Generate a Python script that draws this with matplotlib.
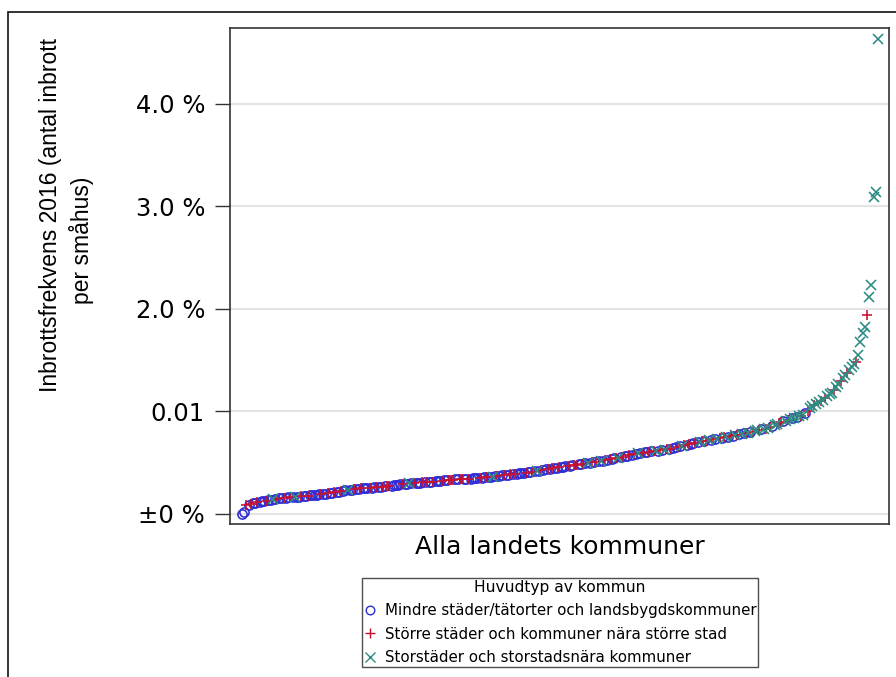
import matplotlib
matplotlib.use("Agg")
import matplotlib.pyplot as plt
from matplotlib.lines import Line2D
from matplotlib.patches import Rectangle
import numpy as np

# Burglary rate per detached house (percent), all municipalities sorted ascending
rate_pct = [
    0.000, 0.010, 0.080, 0.085, 0.092, 0.098, 0.103, 0.108, 0.112, 0.118,
    0.121, 0.125, 0.130, 0.134, 0.138, 0.142, 0.146, 0.150, 0.152, 0.154,
    0.156, 0.157, 0.158, 0.159, 0.160, 0.161, 0.164, 0.166, 0.169, 0.171,
    0.174, 0.177, 0.180, 0.182, 0.185, 0.187, 0.190, 0.192, 0.195, 0.197,
    0.200, 0.203, 0.207, 0.210, 0.214, 0.218, 0.221, 0.225, 0.229, 0.231,
    0.234, 0.237, 0.240, 0.243, 0.246, 0.249, 0.250, 0.251, 0.252, 0.253,
    0.255, 0.256, 0.258, 0.259, 0.262, 0.264, 0.267, 0.270, 0.272, 0.275,
    0.278, 0.280, 0.283, 0.285, 0.288, 0.290, 0.293, 0.295, 0.298, 0.299,
    0.300, 0.302, 0.303, 0.304, 0.305, 0.307, 0.309, 0.312, 0.314, 0.317,
    0.319, 0.322, 0.324, 0.327, 0.328, 0.330, 0.331, 0.333, 0.334, 0.336,
    0.337, 0.338, 0.339, 0.340, 0.341, 0.342, 0.343, 0.345, 0.346, 0.349,
    0.352, 0.354, 0.356, 0.359, 0.361, 0.363, 0.366, 0.368, 0.371, 0.374,
    0.377, 0.380, 0.383, 0.385, 0.388, 0.390, 0.393, 0.395, 0.398, 0.400,
    0.403, 0.405, 0.409, 0.412, 0.416, 0.419, 0.423, 0.427, 0.430, 0.434,
    0.437, 0.441, 0.444, 0.447, 0.451, 0.454, 0.457, 0.460, 0.463, 0.467,
    0.470, 0.474, 0.477, 0.480, 0.483, 0.487, 0.490, 0.493, 0.496, 0.500,
    0.503, 0.506, 0.509, 0.512, 0.516, 0.520, 0.524, 0.529, 0.533, 0.537,
    0.542, 0.546, 0.550, 0.555, 0.559, 0.564, 0.568, 0.572, 0.577, 0.581,
    0.586, 0.590, 0.593, 0.596, 0.599, 0.602, 0.605, 0.608, 0.611, 0.614,
    0.617, 0.620, 0.623, 0.626, 0.629, 0.634, 0.640, 0.645, 0.650, 0.656,
    0.661, 0.667, 0.672, 0.677, 0.683, 0.688, 0.692, 0.696, 0.700, 0.704,
    0.707, 0.711, 0.715, 0.719, 0.723, 0.727, 0.731, 0.735, 0.739, 0.742,
    0.746, 0.750, 0.755, 0.759, 0.763, 0.768, 0.772, 0.777, 0.781, 0.785,
    0.790, 0.795, 0.800, 0.805, 0.810, 0.815, 0.820, 0.825, 0.829, 0.834,
    0.843, 0.852, 0.862, 0.871, 0.881, 0.890, 0.899, 0.906, 0.912, 0.925,
    0.930, 0.936, 0.942, 0.947, 0.952, 0.965, 0.985, 1.005, 1.025, 1.045,
    1.060, 1.072, 1.085, 1.098, 1.110, 1.128, 1.145, 1.162, 1.180, 1.205,
    1.230, 1.262, 1.292, 1.320, 1.348, 1.375, 1.400, 1.428, 1.455, 1.480,
    1.550, 1.670, 1.760, 1.820, 1.940, 2.110, 2.230, 3.090, 3.140, 4.630,
]

# Municipality main type for each value above:
# C = Mindre städer/tätorter..., B = Större städer..., A = Storstäder...
kommuntyp = list(
    "CCBCBCCBCC" "CBCCACBCCB" "CCBCACCBCC" "BCCCCCBCCB" "CCBCCBCCAC"
    "CBCCBCCCBC" "CBCCBCBBCC" "CCCBCCACBC" "CCBCBCCBCC" "CBCCBBBCCB"
    "BCCBCCCCBC" "CBCCACBCCB" "CCBCBCCCCB" "CCBCACBCCB" "CBCCBCCCBC"
    "CBBCCBCACB" "CBCACBCBCC" "BACBCCBCBC" "ACBCCBCBAC" "BCABCBCCBC"
    "ABCBCCBCAB" "CBACBCABCB" "ACBCABCACB" "ACBAABCABA" "BCAABBCABA"
    "CACABACBAA" "BAABABAAAB" "AABAABAAAB" "AAAABAAAAA"
)

type_labels = {
    "C": "Mindre städer/tätorter och landsbygdskommuner",
    "B": "Större städer och kommuner nära större stad",
    "A": "Storstäder och storstadsnära kommuner",
}
type_order = ["C", "B", "A"]
type_markers = {"C": "o", "B": "+", "A": "x"}
type_colors = {"C": "#2E2ED6", "B": "#C8102E", "A": "#2A8C82"}

ytick_vals = [0.0, 0.01, 0.02, 0.03, 0.04]
ytick_labels = ["±0 %", "0.01", "2.0 %", "3.0 %", "4.0 %"]

W, H = 896, 677
fig = plt.figure(figsize=(W / 100, H / 100), dpi=100)
fig.patch.set_facecolor("white")

# outer frame (left and top visible)
fig.patches.append(Rectangle((8 / W, -0.1), 1.2, (H - 12) / H + 0.1,
                             transform=fig.transFigure, fill=False,
                             edgecolor="#111111", linewidth=1.2))

ax = fig.add_axes([230 / W, 1 - 524 / H, 659 / W, 496 / H])

vals = np.array(rate_pct) / 100.0
types = np.array(kommuntyp)
x = np.arange(len(vals))

msize = {"C": 6.6, "B": 7.6, "A": 6.6}
mew = 1.15
for t in type_order:
    m = types == t
    if t == "C":
        ax.plot(x[m], vals[m], linestyle="none", marker="o", markersize=msize[t],
                markerfacecolor="none", markeredgecolor=type_colors[t],
                markeredgewidth=mew)
    else:
        ax.plot(x[m], vals[m], linestyle="none", marker=type_markers[t],
                markersize=msize[t], color=type_colors[t], markeredgewidth=mew)

ax.set_xlim(-5.45, 294.0)
ax.set_ylim(-0.001024, 0.04737)
ax.set_xticks([])
ax.set_yticks(ytick_vals)
ax.set_yticklabels(ytick_labels, fontsize=17.5, family="DejaVu Sans")
ax.tick_params(axis="y", direction="out", length=11, width=1.0,
               color="#333333", pad=7)
ax.grid(axis="y", color="#E3E3E3", linewidth=1.5)
ax.set_axisbelow(True)
for s in ax.spines.values():
    s.set_color("#333333")
    s.set_linewidth(1.2)

ax.set_xlabel("Alla landets kommuner", fontsize=18, family="DejaVu Sans",
              labelpad=8)

fig.text(51 / W, 1 - 215 / H, "Inbrottsfrekvens 2016 (antal inbrott",
         rotation=90, ha="center", va="center", fontsize=16.5,
         family="Liberation Sans")
fig.text(82 / W, 1 - 240 / H, "per småhus)",
         rotation=90, ha="center", va="center", fontsize=16.5,
         family="Liberation Sans")

handles = []
for t in type_order:
    if t == "C":
        h = Line2D([], [], linestyle="none", marker="o", markersize=6.2,
                   markerfacecolor="none", markeredgecolor=type_colors[t],
                   markeredgewidth=1.0, label=type_labels[t])
    else:
        h = Line2D([], [], linestyle="none", marker=type_markers[t],
                   markersize=7.0, color=type_colors[t],
                   markeredgewidth=1.0, label=type_labels[t])
    handles.append(h)

leg = fig.legend(handles=handles, loc="upper center",
                 bbox_to_anchor=(560 / W, 1 - 578 / H),
                 title="Huvudtyp av kommun", frameon=True, fancybox=False,
                 prop={"family": "DejaVu Sans", "size": 10.8},
                 title_fontproperties={"family": "DejaVu Sans", "size": 11.2},
                 handlelength=0.8, handletextpad=0.6, borderpad=0.12,
                 labelspacing=0.56, borderaxespad=0)
leg.get_frame().set_edgecolor("#222222")
leg.get_frame().set_linewidth(1.0)

fig.savefig("out.png", dpi=100)
